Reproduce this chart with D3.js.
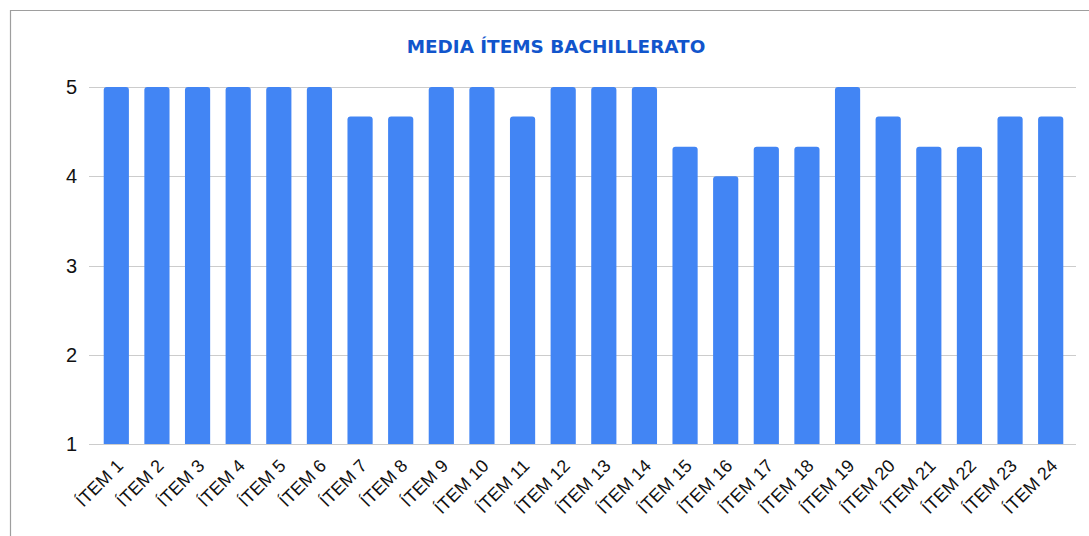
<!DOCTYPE html>
<html><head><meta charset="utf-8">
<script src="https://cdn.jsdelivr.net/npm/d3@7"></script>
<style>body{margin:0;background:#fff;} svg{display:block;}</style>
</head><body>
<script>
const categories = ["ÍTEM 1","ÍTEM 2","ÍTEM 3","ÍTEM 4","ÍTEM 5","ÍTEM 6","ÍTEM 7","ÍTEM 8","ÍTEM 9","ÍTEM 10","ÍTEM 11","ÍTEM 12","ÍTEM 13","ÍTEM 14","ÍTEM 15","ÍTEM 16","ÍTEM 17","ÍTEM 18","ÍTEM 19","ÍTEM 20","ÍTEM 21","ÍTEM 22","ÍTEM 23","ÍTEM 24"];
const values = [5,5,5,5,5,5,4.67,4.67,5,5,4.67,5,5,5,4.33,4,4.33,4.33,5,4.67,4.33,4.33,4.67,4.67];
const yTicks = [1,2,3,4,5];
const title = "MEDIA ÍTEMS BACHILLERATO";

const W = 1089, H = 536;
const svg = d3.select("body").append("svg").attr("width", W).attr("height", H);

// frame
svg.append("path").attr("d", `M10.5,${H} V10.5 H${W}`).attr("fill","none").attr("stroke","#9e9e9e").attr("stroke-width",1.2);

const x = d3.scaleBand().domain(categories).range([96, 1071]).paddingInner(0.38).paddingOuter(0.19);
const y = d3.scaleLinear().domain([1,5]).range([444, 87]);

// gridlines
svg.append("g").selectAll("line").data(yTicks).join("line")
  .attr("x1", 89).attr("x2", 1076)
  .attr("y1", d => Math.round(y(d)) + 0.5).attr("y2", d => Math.round(y(d)) + 0.5)
  .attr("stroke", "#cccccc").attr("stroke-width", 1.2);

// y labels
svg.append("g").selectAll("text").data(yTicks).join("text")
  .attr("x", 77).attr("y", d => y(d)).attr("dy", "0.36em")
  .attr("text-anchor", "end")
  .attr("font-family", "Liberation Sans, Arial, sans-serif").attr("font-size", 20).attr("fill", "#111")
  .text(d => d);

// bars with rounded top corners
const r = 3;
svg.append("g").selectAll("path").data(values).join("path")
  .attr("fill", "#4285f4")
  .attr("d", (d, i) => {
    const x0 = x(categories[i]), w = x.bandwidth(), yt = y(d), yb = y(1);
    return `M${x0},${yb} V${yt + r} Q${x0},${yt} ${x0 + r},${yt} H${x0 + w - r} Q${x0 + w},${yt} ${x0 + w},${yt + r} V${yb} Z`;
  });

// x labels
svg.append("g").selectAll("text").data(categories).join("text")
  .attr("transform", d => `translate(${x(d) + x.bandwidth()/2 + 8},${467}) rotate(-45)`)
  .attr("text-anchor", "end")
  .attr("font-family", "Liberation Sans, Arial, sans-serif").attr("font-size", 18).attr("fill", "#111")
  .text(d => d);

// title
svg.append("text").attr("x", 556).attr("y", 53).attr("text-anchor", "middle")
  .attr("font-family", "DejaVu Sans, Verdana, sans-serif").attr("font-weight", "bold")
  .attr("font-size", 18.4).attr("fill", "#1155cc")
  .text(title);
</script>
</body></html>
